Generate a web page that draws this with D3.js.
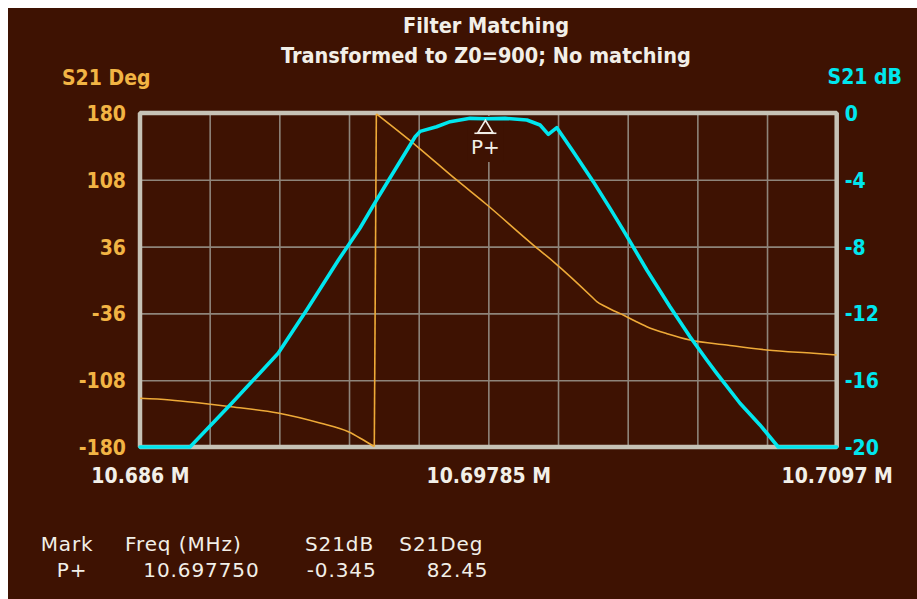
<!DOCTYPE html>
<html>
<head>
<meta charset="utf-8">
<script src="https://cdn.jsdelivr.net/npm/d3@7"></script>
<style>
  html, body { margin: 0; padding: 0; background: #ffffff; }
  svg { display: block; }
</style>
</head>
<body>
<svg id="chart" width="917" height="599"></svg>
<script>
// Sweep: S21 magnitude (dB) and phase (deg) versus frequency (MHz)
const freqDb = [10.686, 10.6877, 10.68912, 10.6907, 10.69167, 10.69275, 10.69348, 10.69405,
  10.69444, 10.69536, 10.69553, 10.69609, 10.69655, 10.69723, 10.69775, 10.69842,
  10.69916, 10.69961, 10.69989, 10.70018, 10.70074, 10.70142, 10.70199, 10.70244, 10.70324,
  10.70403, 10.70471, 10.70528, 10.70562, 10.70641, 10.70709, 10.70771, 10.7097];
const s21Db = [-20, -20, -17.38, -14.39, -11.8, -8.8, -6.9, -5.2,
  -4.07, -1.42, -1.1, -0.82, -0.52, -0.32, -0.345, -0.32,
  -0.42, -0.72, -1.28, -0.88, -2.32, -4.11, -5.71, -7.01, -9.4,
  -11.6, -13.4, -14.79, -15.59, -17.38, -18.68, -20, -20];

// Phase wraps once from -180 to +180; the two runs are drawn as smooth curves joined by the wrap step
const freqDegLow = [10.686, 10.68702, 10.68804, 10.6891, 10.69069, 10.69212, 10.69309, 10.6936, 10.69397];
const s21DegLow = [-127.5, -129.3, -132.6, -136.6, -143.3, -154.1, -163.5, -172.5, -179.5];
const freqDegHigh = [10.69404, 10.69541, 10.69677, 10.69775, 10.69938, 10.70006, 10.70142,
  10.70154, 10.70183, 10.70213, 10.70244, 10.70284, 10.70324, 10.70396, 10.70471, 10.70596,
  10.70732, 10.70891, 10.7097];
const s21DegHigh = [179.0, 144.4, 107.8, 82.45, 37.7, 19.9, -19.7,
  -23.4, -28.6, -33.4, -37.7, -44.2, -50.3, -58.2, -64.7, -70.1,
  -75.4, -79.0, -80.8];

// Axis ticks
const degTicks = [180, 108, 36, -36, -108, -180];
const dbTicks = [0, -4, -8, -12, -16, -20];
const freqTicks = [10.686, 10.69785, 10.7097];
const freqTickLabels = ["10.686 M", "10.69785 M", "10.7097 M"];
const freqDomain = [10.686, 10.7097];
const gridDivisions = 10;

// Marker readout
const markerName = "P+";
const markerFreq = 10.69775;
const markerDb = -0.345;
const markerDeg = 82.45;
const tableHeader = ["Mark", "Freq (MHz)", "S21dB", "S21Deg"];
const tableRow = [markerName, "10.697750", "-0.345", "82.45"];

const titleLines = ["Filter Matching", "Transformed to Z0=900; No matching"];

const BG = "#3e1202", FG = "#f2efe8", ORANGE = "#f2b444", TRACE_OR = "#eeaa38",
      CYAN = "#00e6ee", FRAME = "#c6c2b6", GRID = "#8e847a";
const BOLD = "'DejaVu Sans Condensed', 'DejaVu Sans', sans-serif";

const svg = d3.select("#chart");
svg.append("rect").attr("x", 8).attr("y", 8).attr("width", 909).attr("height", 591).attr("fill", BG);

const L = 140, R = 836.7, T = 113, B = 447;
const x = d3.scaleLinear().domain(freqDomain).range([L, R]);
const yDeg = d3.scaleLinear().domain([-180, 180]).range([B, T]);
const yDb = d3.scaleLinear().domain([-20, 0]).range([B, T]);

// Title
svg.append("g").selectAll("text").data(titleLines).join("text")
  .attr("x", 486).attr("y", (d, i) => 33 + i * 30)
  .attr("text-anchor", "middle")
  .attr("font-family", BOLD).attr("font-weight", "bold").attr("font-size", 21.5)
  .attr("fill", FG).text(d => d);

// Grid
const gridX = d3.range(1, gridDivisions).map(i => freqDomain[0] + (freqDomain[1] - freqDomain[0]) * i / gridDivisions);
const grid = svg.append("g");
grid.append("g").attr("transform", `translate(0,${B})`)
  .call(d3.axisBottom(x).tickValues(gridX).tickSize(-(B - T)).tickFormat(""))
  .call(g => g.select(".domain").remove())
  .call(g => g.selectAll("line").attr("stroke", GRID).attr("stroke-width", 1.6));
grid.append("g").attr("transform", `translate(${L},0)`)
  .call(d3.axisLeft(yDeg).tickValues(degTicks.slice(1, -1)).tickSize(-(R - L)).tickFormat(""))
  .call(g => g.select(".domain").remove())
  .call(g => g.selectAll("line").attr("stroke", GRID).attr("stroke-width", 1.6));

// Marker label backdrop breaks the grid line under it
const mx = x(markerFreq);
svg.append("rect").attr("x", mx - 18).attr("y", T + 3).attr("width", 36).attr("height", 46).attr("fill", BG);

// Frame
svg.append("rect").attr("x", L).attr("y", T).attr("width", R - L).attr("height", B - T)
  .attr("fill", "none").attr("stroke", FRAME).attr("stroke-width", 4.5).attr("stroke-linejoin", "bevel");

const plainNum = d => String(d);

// Left axis (phase)
const axL = svg.append("g").attr("transform", `translate(${L},0)`)
  .call(d3.axisLeft(yDeg).tickValues(degTicks).tickSize(0).tickPadding(14).tickFormat(plainNum));
axL.select(".domain").remove();
axL.selectAll("text").attr("font-family", BOLD).attr("font-weight", "bold").attr("font-size", 21)
  .attr("fill", ORANGE).attr("dy", "0.36em");

// Right axis (magnitude)
const axR = svg.append("g").attr("transform", `translate(${R},0)`)
  .call(d3.axisRight(yDb).tickValues(dbTicks).tickSize(0).tickPadding(8).tickFormat(plainNum));
axR.select(".domain").remove();
axR.selectAll("text").attr("font-family", BOLD).attr("font-weight", "bold").attr("font-size", 21)
  .attr("fill", CYAN).attr("dy", "0.36em");

// Bottom axis (frequency)
const axB = svg.append("g").attr("transform", `translate(0,${B})`)
  .call(d3.axisBottom(x).tickValues(freqTicks).tickSize(0).tickPadding(0)
    .tickFormat((d, i) => freqTickLabels[i]));
axB.select(".domain").remove();
axB.selectAll("text").attr("font-family", BOLD).attr("font-weight", "bold").attr("font-size", 21)
  .attr("fill", FG).attr("y", 35.5).attr("dy", 0);

// Axis titles
svg.append("text").attr("x", 62).attr("y", 85).attr("font-family", BOLD).attr("font-weight", "bold")
  .attr("font-size", 21).attr("fill", ORANGE).text("S21 Deg");
svg.append("text").attr("x", 902).attr("y", 84).attr("text-anchor", "end").attr("font-family", BOLD)
  .attr("font-weight", "bold").attr("font-size", 21).attr("fill", CYAN).text("S21 dB");

// Phase trace
const smooth = d3.line().curve(d3.curveMonotoneX);
const lowPts = freqDegLow.map((f, i) => [x(f), yDeg(s21DegLow[i])]);
const highPts = freqDegHigh.map((f, i) => [x(f), yDeg(s21DegHigh[i])]);
const phase = svg.append("g").attr("fill", "none").attr("stroke", TRACE_OR)
  .attr("stroke-width", 1.6).attr("stroke-linejoin", "round");
phase.append("path").attr("d", smooth(lowPts));
phase.append("path").attr("d", d3.line()([lowPts[lowPts.length - 1], highPts[0]]));
phase.append("path").attr("d", smooth(highPts));

// Magnitude trace
const dbPts = freqDb.map((f, i) => [x(f), yDb(s21Db[i])]);
svg.append("path").attr("d", d3.line()(dbPts)).attr("fill", "none")
  .attr("stroke", CYAN).attr("stroke-width", 3.6).attr("stroke-linejoin", "round").attr("stroke-linecap", "round");

// Marker symbol
const my = yDb(markerDb) + 1.5;
const mk = svg.append("g").attr("stroke", FG).attr("fill", "none").attr("stroke-width", 1.6);
mk.append("path").attr("d", `M${mx},${my} L${mx + 7.5},${my + 12.5} L${mx - 7.5},${my + 12.5} Z`);
mk.append("line").attr("x1", mx - 11).attr("x2", mx + 11).attr("y1", my + 13).attr("y2", my + 13);
svg.append("text").attr("x", mx).attr("y", my + 34).attr("text-anchor", "middle")
  .attr("font-family", "'DejaVu Sans', sans-serif").attr("font-size", 20).attr("fill", FG).text(markerName);

// Marker readout table
const headX = [40.7, 125, 305, 399.3];
const rowX = [56.7, 143.3, 306.7, 426.7];
const tbl = svg.append("g").attr("font-family", "'DejaVu Sans', sans-serif").attr("font-size", 20)
  .attr("fill", FG).attr("letter-spacing", 0.9);
tbl.selectAll("text.h").data(tableHeader).join("text").attr("class", "h")
  .attr("x", (d, i) => headX[i]).attr("y", 551).text(d => d);
tbl.selectAll("text.r").data(tableRow).join("text").attr("class", "r")
  .attr("x", (d, i) => rowX[i]).attr("y", 577).text(d => d);
</script>
</body>
</html>
